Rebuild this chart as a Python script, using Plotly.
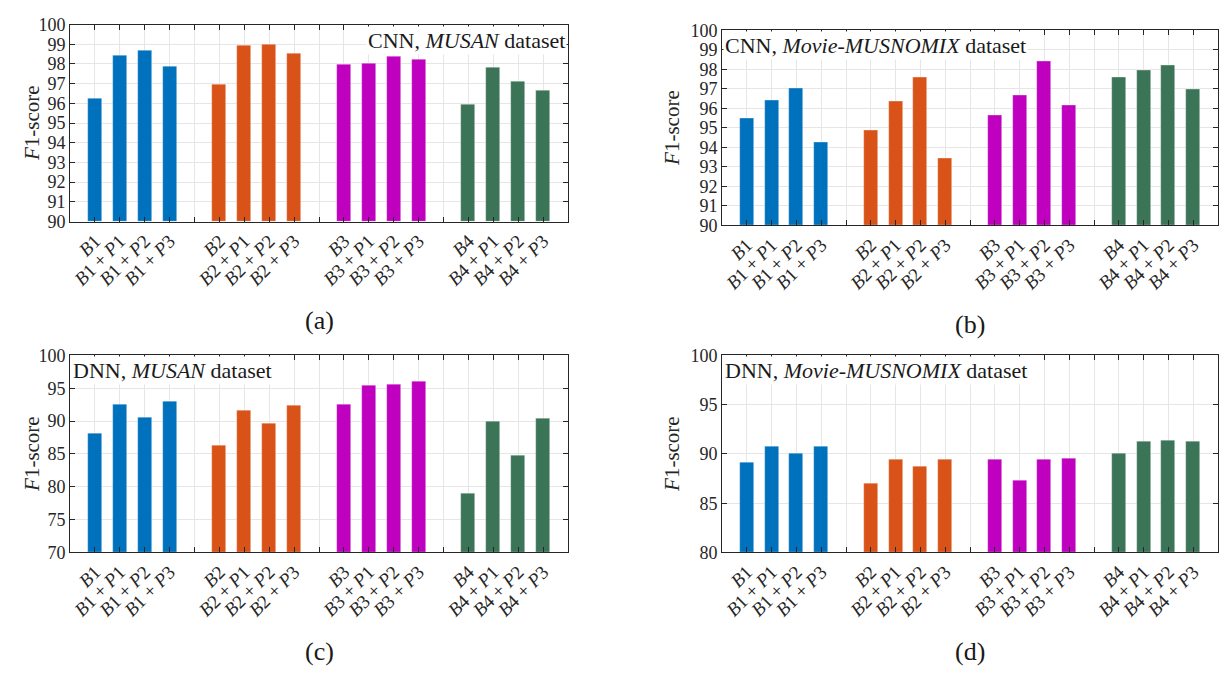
import plotly.graph_objects as go

# ---------------- data ----------------
groups = ["B1", "B2", "B3", "B4"]
variants = ["", "+P1", "+P2", "+P3"]
colors = ["#0072BD", "#D95319", "#BF00BF", "#3C7458"]

cnn_musan = [
    [96.24, 98.41, 98.67, 97.85],
    [96.95, 98.95, 99.01, 98.51],
    [97.98, 98.01, 98.37, 98.24],
    [95.93, 97.82, 97.13, 96.67],
]
cnn_movie = [
    [95.50, 96.39, 97.05, 94.27],
    [94.88, 96.34, 97.57, 93.42],
    [95.66, 96.65, 98.42, 96.14],
    [97.57, 97.95, 98.20, 96.96],
]
dnn_musan = [
    [88.19, 92.52, 90.51, 93.06],
    [86.23, 91.69, 89.62, 92.33],
    [92.57, 95.47, 95.52, 95.97],
    [79.05, 89.92, 84.75, 90.46],
]
dnn_movie = [
    [89.15, 90.78, 90.07, 90.72],
    [87.03, 89.41, 88.73, 89.41],
    [89.48, 87.35, 89.48, 89.51],
    [90.07, 91.27, 91.37, 91.27],
]

panels = [
    dict(data=cnn_musan, title="CNN, <i>MUSAN</i> dataset", yr=(90, 100), dt=1, corner="right", tag="(a)", yoff=38),
    dict(data=cnn_movie, title="CNN, <i>Movie-MUSNOMIX</i> dataset", yr=(90, 100), dt=1, corner="left", tag="(b)", yoff=50),
    dict(data=dnn_musan, title="DNN, <i>MUSAN</i> dataset", yr=(70, 100), dt=5, corner="left", tag="(c)", yoff=38),
    dict(data=dnn_movie, title="DNN, <i>Movie-MUSNOMIX</i> dataset", yr=(80, 100), dt=5, corner="left", tag="(d)", yoff=50),
]

W, H = 1224, 675
# plot areas in pixels: (left, right, top, bottom)
boxes = [(70, 568, 15, 218), (722, 1218, 21, 222), (70, 568, 356, 559), (722, 1218, 356, 559)]

FONT = "Liberation Serif"
TXT = "#262626"


def label_html(g, v):
    s = "<i>B</i>" + g[1:]
    if v:
        s += " + <i>P</i>" + v[2:]
    return s


# category positions (one empty slot between groups)
xpos, xtxt = [], []
for gi, g in enumerate(groups):
    for vi, v in enumerate(variants):
        xpos.append(1 + gi * 5 + vi)
        xtxt.append(label_html(g, v))
all_ticks = list(range(1, 20))
all_text = [xtxt[xpos.index(t)] if t in xpos else "" for t in all_ticks]

fig = go.Figure()
annotations = []

for k, p in enumerate(panels):
    xa = "x" if k == 0 else f"x{k+1}"
    ya = "y" if k == 0 else f"y{k+1}"
    l, r, t, b = boxes[k]
    y0, y1 = p["yr"]
    for gi in range(4):
        fig.add_trace(go.Bar(
            x=[1 + gi * 5 + vi for vi in range(4)],
            y=[v - y0 for v in p["data"][gi]],
            base=y0,
            marker=dict(color=colors[gi], line=dict(width=0.6, color="rgba(255,255,255,0.5)")),
            width=0.56,
            xaxis=xa, yaxis=ya, showlegend=False,
        ))
    axname = "xaxis" if k == 0 else f"xaxis{k+1}"
    ayname = "yaxis" if k == 0 else f"yaxis{k+1}"
    fig.layout[axname] = dict(
        domain=[l / W, r / W], anchor=ya, range=[0, 20],
        tickmode="array", tickvals=all_ticks, ticktext=all_text, tickangle=-45,
        ticks="inside", ticklen=5, tickcolor=TXT, mirror="ticks",
        showline=True, linecolor=TXT, linewidth=1,
        showgrid=True, gridcolor="#e6e6e6", gridwidth=1,
        tickfont=dict(family=FONT, size=19, color=TXT),
        zeroline=False,
    )
    fig.layout[ayname] = dict(
        domain=[1 - b / H, 1 - t / H], anchor=xa, range=[y0, y1],
        tickmode="linear", tick0=y0, dtick=p["dt"],
        ticks="inside", ticklen=5, tickcolor=TXT, mirror="ticks",
        showline=True, linecolor=TXT, linewidth=1,
        showgrid=True, gridcolor="#e6e6e6", gridwidth=1,
        tickfont=dict(family=FONT, size=18, color=TXT),
        zeroline=False,
    )
    # dataset annotation box
    if p["corner"] == "right":
        ax_x, anch = (r - 1) / W, "right"
    else:
        ax_x, anch = (l + 1) / W, "left"
    annotations.append(dict(xref="paper", yref="paper", x=ax_x, y=1 - (t + 1) / H,
                            xanchor=anch, yanchor="top", text=p["title"], showarrow=False,
                            bgcolor="white", borderpad=1,
                            font=dict(family=FONT, size=22, color="#1a1a1a")))
    # y-axis title
    annotations.append(dict(xref="paper", yref="paper", x=(l - p["yoff"]) / W, y=1 - ((t + b) / 2) / H,
                            xanchor="center", yanchor="middle", textangle=-90,
                            text="<i>F</i>1-score", showarrow=False,
                            font=dict(family=FONT, size=21, color=TXT)))
    # panel tag
    annotations.append(dict(xref="paper", yref="paper", x=((l + r) / 2) / W, y=1 - (b + 102) / H,
                            xanchor="center", yanchor="middle", text=p["tag"], showarrow=False,
                            font=dict(family=FONT, size=26, color="#1a1a1a")))

fig.update_layout(
    width=W, height=H, margin=dict(l=0, r=0, t=0, b=0),
    paper_bgcolor="white", plot_bgcolor="white",
    bargap=0, annotations=annotations,
)

fig.write_html("out.html")
